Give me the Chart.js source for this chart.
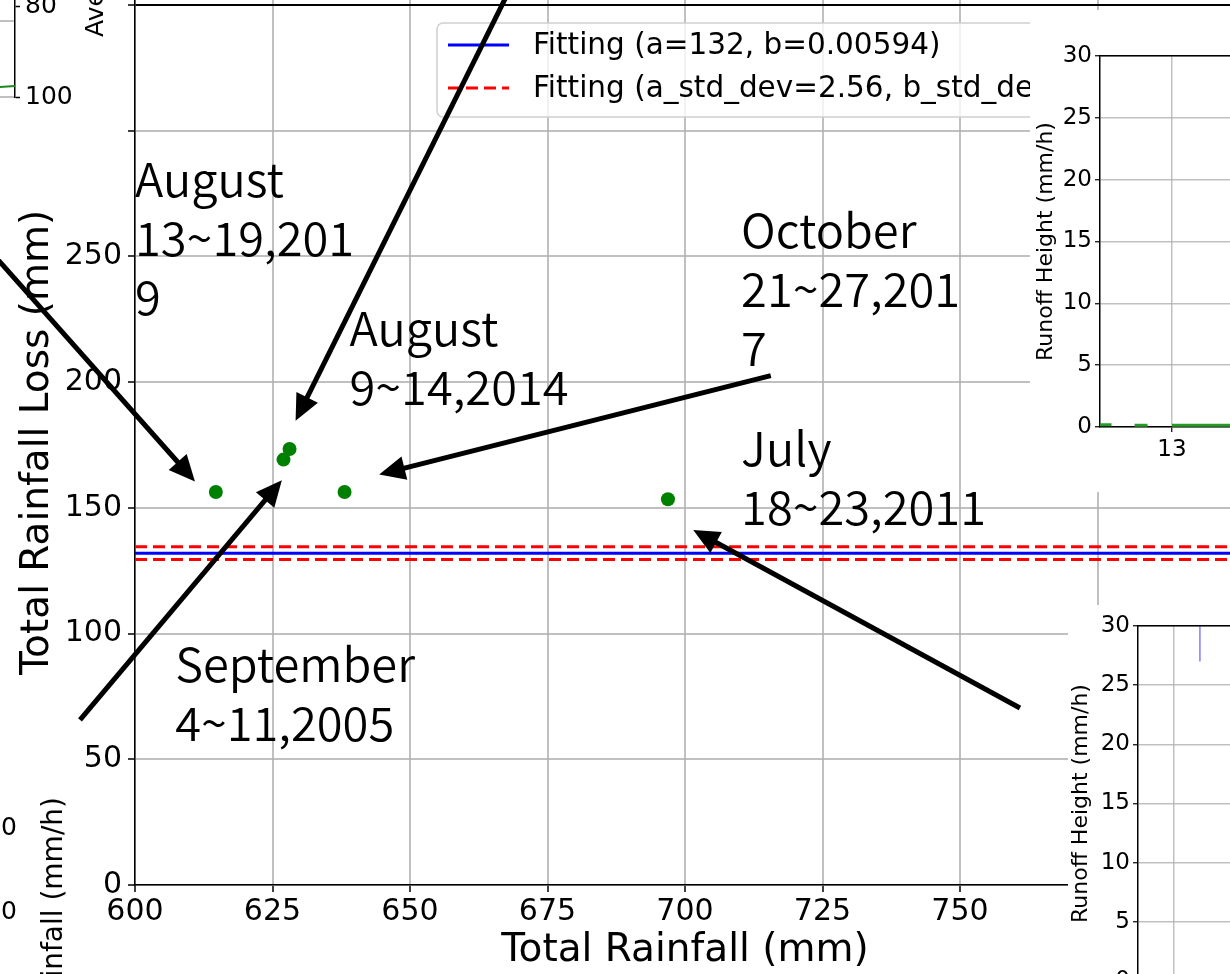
<!DOCTYPE html>
<html>
<head>
<meta charset="utf-8">
<script src="https://cdn.jsdelivr.net/npm/chart.js@4.4.1/dist/chart.umd.min.js"></script>
<style>
  html, body { margin: 0; padding: 0; width: 1230px; height: 974px; overflow: hidden; background: #fff; }
  body { position: relative; }
  canvas { position: absolute; display: block; }
  #main { left: 0; top: 0; }
  #cornerTop { left: 0; top: 0; }
  #sideTop { left: 1030px; top: 10px; background: #fff; }
  #sideBottom { left: 1068px; top: 605px; background: #fff; }
</style>
</head>
<body>
<canvas id="main" width="1240" height="974"></canvas>
<canvas id="cornerTop" width="80" height="110"></canvas>
<canvas id="sideTop" width="370" height="482"></canvas>
<canvas id="sideBottom" width="372" height="395"></canvas>
<script>
// ---- event totals (one point per storm event) ----
const totalRainfall = [614.7, 627.0, 628.1, 638.1, 696.9];
const rainfallLoss  = [156.3, 169.2, 173.4, 156.3, 153.4];

// ---- fitted loss parameters ----
const fitA = 132;
const fitB = 0.00594;
const fitAStd = 2.56;
const fitBStd = 0.0002;
const fitSpan = [600, 800];

// ---- main axes ticks ----
const xTickValues = [600, 625, 650, 675, 700, 725, 750, 775, 800];
const yTickValues = [0, 50, 100, 150, 200, 250, 300, 350];
const yTickLabels = ['0', '50', '100', '150', '200', '250', '', ''];

// ---- event notes: text lines, text anchor and arrow (data units) ----
const noteLines = [
  ['August', '13~19,201', '9'],
  ['August', '9~14,2014'],
  ['October', '21~27,201', '7'],
  ['July', '18~23,2011'],
  ['September', '4~11,2005']
];
const noteAnchorX = [600.0, 639.0, 710.2, 710.2, 607.3];
const noteAnchorY = [273.5, 214.3, 253.5, 166.5, 80.8];
const arrowFromX = [571.8, 669.0, 715.6, 760.9, 590.0];
const arrowFromY = [256.8, 360.0, 202.6, 70.4, 65.7];
const arrowToX   = [610.9, 629.2, 644.4, 701.5, 626.7];
const arrowToY   = [160.5, 184.7, 163.3, 141.2, 161.0];

// ---- hydrograph panels ----
const augRunoffT = [12.50, 12.58, 12.62, 12.74, 12.83, 12.87, 13.00, 14.00];
const augRunoffV = [0.18, 0.18, null, 0.15, 0.15, null, 0.15, 0.15];
const augTicks = [13];
const julRainT = [18.18, 18.18];
const julRainV = [30, 27.0];
const julTicks = [18];
const runoffTicks = [0, 5, 10, 15, 20, 25, 30];

// ---- upper-left panel ----
const cornerT = [0, 1];
const cornerRunoff = [0.26, 0.29];
const cornerRainTicks = [80, 100];

Chart.defaults.font.family = '"DejaVu Sans", sans-serif';
Chart.defaults.color = '#000';
Chart.defaults.animation = false;

const GRID = 'rgba(176,176,176,0.8)';
const setTicks = list => scale => { scale.ticks = list.map(v => ({ value: v })); };
// fixed axis size, no extra room reserved for edge labels
const fixWidth = w => s => { s.width = w; s.paddingTop = 0; s.paddingBottom = 0; };
const fixHeight = h => s => { s.height = h; s.paddingLeft = 0; s.paddingRight = 0; };

// legend box drawn inside the plot, top right
const fitLegend = {
  id: 'fitLegend',
  afterDatasetsDraw(chart) {
    const ctx = chart.ctx;
    const items = chart.data.datasets.filter(d => d.inLegend);
    const left = 437, top = 23, w = 720, h = 94, r = 6;
    ctx.save();
    ctx.beginPath();
    ctx.roundRect(left, top, w, h, r);
    ctx.fillStyle = 'rgba(255,255,255,0.8)';
    ctx.fill();
    ctx.strokeStyle = '#d0d0d0';
    ctx.lineWidth = 1.5;
    ctx.stroke();
    ctx.font = '29.5px "DejaVu Sans"';
    ctx.textBaseline = 'middle';
    ctx.textAlign = 'left';
    items.forEach((d, i) => {
      const y = 45 + i * 43;
      ctx.beginPath();
      ctx.setLineDash(d.borderDash || []);
      ctx.strokeStyle = d.borderColor;
      ctx.lineWidth = d.borderWidth;
      ctx.moveTo(448, y);
      ctx.lineTo(509, y);
      ctx.stroke();
      ctx.setLineDash([]);
      ctx.fillStyle = '#000';
      ctx.fillText(d.label, 533, y + 1);
    });
    ctx.restore();
  }
};

function drawArrow(ctx, x1, y1, x2, y2) {
  const ang = Math.atan2(y2 - y1, x2 - x1);
  const hl = 26, hw = 12;
  const bx = x2 - hl * Math.cos(ang), by = y2 - hl * Math.sin(ang);
  ctx.beginPath();
  ctx.lineWidth = 5;
  ctx.lineCap = 'butt';
  ctx.moveTo(x1, y1);
  ctx.lineTo(bx + 2 * Math.cos(ang), by + 2 * Math.sin(ang));
  ctx.stroke();
  ctx.beginPath();
  ctx.moveTo(x2, y2);
  ctx.lineTo(bx + hw * Math.sin(ang), by - hw * Math.cos(ang));
  ctx.lineTo(bx - hw * Math.sin(ang), by + hw * Math.cos(ang));
  ctx.closePath();
  ctx.fill();
}

// event notes with arrows, plus the neighbouring panels' labels
const eventNotes = {
  id: 'eventNotes',
  afterDraw(chart) {
    const ctx = chart.ctx;
    const sx = chart.scales.x, sy = chart.scales.y;
    ctx.save();
    ctx.fillStyle = '#000';
    ctx.strokeStyle = '#000';
    noteLines.forEach((lines, i) => {
      drawArrow(ctx,
        sx.getPixelForValue(arrowFromX[i]), sy.getPixelForValue(arrowFromY[i]),
        sx.getPixelForValue(arrowToX[i]), sy.getPixelForValue(arrowToY[i]));
    });
    ctx.font = '350 47px "Noto Sans CJK JP"';
    ctx.textAlign = 'left';
    ctx.textBaseline = 'alphabetic';
    noteLines.forEach((lines, i) => {
      const x = sx.getPixelForValue(noteAnchorX[i]);
      const y = sy.getPixelForValue(noteAnchorY[i]);
      lines.forEach((t, k) => ctx.fillText(t, x, y + k * 59));
    });

    // labels of the neighbouring panels
    ctx.font = '25px "DejaVu Sans"';
    ctx.save();
    ctx.translate(103, 37);
    ctx.rotate(-Math.PI / 2);
    ctx.textAlign = 'left';
    ctx.fillText('Average', 0, 0);
    ctx.restore();
    ctx.font = '28px "DejaVu Sans"';
    ctx.save();
    ctx.translate(62, 797);
    ctx.rotate(-Math.PI / 2);
    ctx.textAlign = 'right';
    ctx.fillText('Rainfall (mm/h)', 0, 0);
    ctx.restore();
    ctx.font = '25px "DejaVu Sans"';
    ctx.textAlign = 'right';
    ctx.textBaseline = 'middle';
    ctx.fillText('10', 17, 828);
    ctx.fillText('20', 17, 912);
    ctx.restore();
  }
};

const redLine = {
  showLine: true, borderColor: '#ff0000', borderDash: [12, 6], borderWidth: 3,
  pointRadius: 0, backgroundColor: '#ff0000'
};

new Chart(document.getElementById('main'), {
  type: 'scatter',
  data: {
    datasets: [
      {
        label: `Fitting (a=${fitA}, b=${fitB})`, inLegend: true,
        data: fitSpan.map(x => ({ x, y: fitA })),
        showLine: true, borderColor: '#0000ff', backgroundColor: '#0000ff', borderWidth: 3, pointRadius: 0
      },
      Object.assign({
        label: `Fitting (a_std_dev=${fitAStd}, b_std_dev=${fitBStd})`, inLegend: true,
        data: fitSpan.map(x => ({ x, y: fitA + fitAStd }))
      }, redLine),
      Object.assign({
        label: 'lower bound',
        data: fitSpan.map(x => ({ x, y: fitA - fitAStd }))
      }, redLine),
      {
        label: 'Events',
        data: totalRainfall.map((x, i) => ({ x, y: rainfallLoss[i] })),
        backgroundColor: '#008000', borderColor: '#008000', pointRadius: 7, borderWidth: 0
      }
    ]
  },
  options: {
    responsive: false,
    animation: false,
    layout: { padding: { left: 0, right: 5, top: 0, bottom: 0 }, autoPadding: false },
    plugins: { legend: { display: false }, tooltip: { enabled: false } },
    scales: {
      x: {
        type: 'linear', min: fitSpan[0], max: fitSpan[1],
        afterBuildTicks: setTicks(xTickValues),
        afterFit: fixHeight(89),
        ticks: { font: { size: 30 }, padding: 2, maxRotation: 0, autoSkip: false },
        grid: { color: GRID, lineWidth: 2, tickColor: '#000', tickLength: 7, tickWidth: 1.5 },
        border: { color: '#000', width: 1.5 },
        title: { display: true, text: 'Total Rainfall (mm)', font: { size: 39 }, padding: { top: 0, bottom: 0 } }
      },
      y: {
        type: 'linear', min: 0, max: 352,
        afterBuildTicks: setTicks(yTickValues),
        afterFit: fixWidth(135),
        ticks: {
          font: { size: 30 }, padding: 6, autoSkip: false,
          callback: v => { const i = yTickValues.indexOf(v); return i >= 0 ? yTickLabels[i] : ''; }
        },
        grid: {
          color: c => (c.tick && c.tick.value === 350 ? '#000' : GRID),
          lineWidth: 2, tickColor: '#000', tickLength: 7, tickWidth: 1.5
        },
        border: { color: '#000', width: 1.5 },
        title: { display: true, text: 'Total Rainfall Loss (mm)', font: { size: 39 }, padding: { top: 14, bottom: 0 } }
      }
    }
  },
  plugins: [fitLegend, eventNotes]
});

// upper-left panel fragment
new Chart(document.getElementById('cornerTop'), {
  type: 'scatter',
  data: {
    datasets: [{
      data: cornerT.map((x, i) => ({ x, y: cornerRunoff[i] })),
      showLine: true, borderColor: '#1a8a1a', borderWidth: 2, pointRadius: 0, yAxisID: 'y'
    }]
  },
  options: {
    responsive: false, animation: false,
    layout: { padding: { left: 0, right: 0, top: 0, bottom: 13 }, autoPadding: false },
    plugins: { legend: { display: false }, tooltip: { enabled: false } },
    scales: {
      x: { type: 'linear', min: 0, max: 1, display: false },
      y: {
        position: 'left', min: 0, max: 2.553,
        afterBuildTicks: setTicks([0, 2]),
        afterFit: fixWidth(0),
        ticks: { display: false },
        grid: { color: GRID, lineWidth: 2, drawTicks: false },
        border: { display: false }
      },
      y2: {
        position: 'right', reverse: true, min: 78.5, max: 100,
        afterBuildTicks: setTicks(cornerRainTicks),
        afterFit: fixWidth(65),
        ticks: { font: { size: 25 }, padding: 5 },
        grid: { drawOnChartArea: false, tickColor: '#000', tickLength: 5, tickWidth: 1.5 },
        border: { color: '#000', width: 1.5 }
      }
    }
  }
});

function hydroPanel(id, xMin, xMax, xTicks, datasets, geom) {
  return new Chart(document.getElementById(id), {
    type: 'scatter',
    data: { datasets },
    options: {
      responsive: false, animation: false,
      layout: { padding: { left: 0, right: geom.right, top: geom.top, bottom: 0 }, autoPadding: false },
      plugins: { legend: { display: false }, tooltip: { enabled: false } },
      scales: {
        x: {
          type: 'linear', min: xMin, max: xMax,
          afterBuildTicks: setTicks(xTicks),
          afterFit: fixHeight(geom.xHeight),
          ticks: { display: geom.xLabels, font: { size: 23 }, padding: 4 },
          grid: { color: GRID, lineWidth: 1.5, tickColor: '#000', tickLength: 5, tickWidth: 1.2 },
          border: { color: '#000', width: 1.5 }
        },
        xTop: {
          type: 'linear', position: 'top', min: xMin, max: xMax,
          afterFit: fixHeight(0),
          ticks: { display: false },
          grid: { display: false, drawTicks: false },
          border: { display: true, color: '#000', width: 1.5 }
        },
        y: {
          min: 0, max: 30,
          afterBuildTicks: setTicks(runoffTicks),
          afterFit: fixWidth(70),
          ticks: { font: { size: 23 }, padding: 3 },
          grid: { color: GRID, lineWidth: 1.5, tickColor: '#000', tickLength: 5, tickWidth: 1.2 },
          border: { color: '#000', width: 1.5 },
          title: { display: true, text: 'Runoff Height (mm/h)', font: { size: 22 }, padding: { top: geom.titlePad, bottom: 0 } }
        }
      }
    }
  });
}

hydroPanel('sideTop', 12.5, 14, augTicks, [{
  data: augRunoffT.map((x, i) => ({ x, y: augRunoffV[i] })),
  showLine: true, spanGaps: false, borderColor: '#2a9a2a', borderWidth: 3, pointRadius: 0
}], { right: 84, top: 46, xHeight: 65, xLabels: true, titlePad: 3 });

hydroPanel('sideBottom', 17.75, 19, julTicks, [{
  data: julRainT.map((x, i) => ({ x, y: julRainV[i] })),
  showLine: true, borderColor: 'rgba(40,40,255,0.6)', borderWidth: 1.5, pointRadius: 0
}], { right: 122, top: 21, xHeight: 19, xLabels: false, titlePad: 0 });
</script>
</body>
</html>
